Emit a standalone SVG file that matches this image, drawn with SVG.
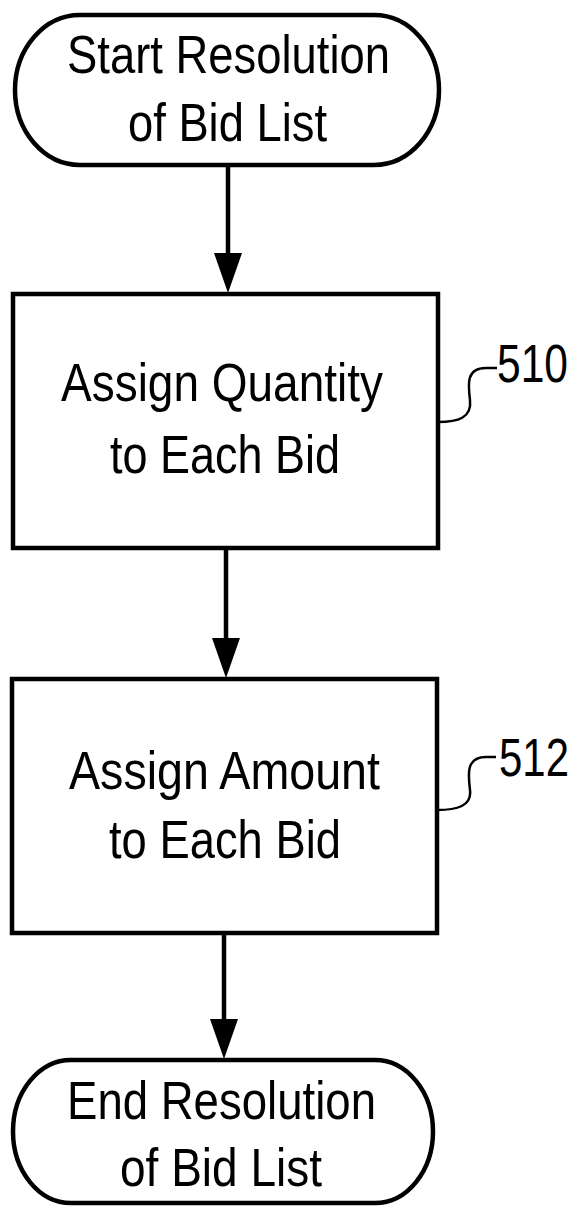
<svg xmlns="http://www.w3.org/2000/svg" width="585" height="1210" viewBox="0 0 585 1210">
<style>
.shape{fill:#fff;stroke:#000;stroke-width:4.5}
.txt{font-family:"Liberation Sans",Arial,sans-serif;font-size:53px;fill:#000}
.lbl{font-family:"Liberation Sans",Arial,sans-serif;font-size:54px;fill:#000}
.conn{stroke:#000;stroke-width:4.5;fill:none}
.lead{stroke:#000;stroke-width:2.5;fill:none}
</style>
<defs>
<marker id="ah" markerUnits="userSpaceOnUse" markerWidth="40" markerHeight="30" refX="5" refY="14" orient="auto" viewBox="0 0 40 28">
<path d="M0,0 L40,14 L0,28 z" fill="#000"/>
</marker>
</defs>
<rect width="585" height="1210" fill="#fff"/>
<g id="start">
<rect class="shape" x="15" y="15" width="424" height="150" rx="65" ry="75"/>
<text class="txt" x="67" y="73" textLength="323" lengthAdjust="spacingAndGlyphs">Start Resolution</text>
<text class="txt" x="128" y="141" textLength="199" lengthAdjust="spacingAndGlyphs">of Bid List</text>
</g>
<g id="n510">
<rect class="shape" x="13" y="294" width="425" height="254"/>
<text class="txt" x="61" y="401" textLength="322" lengthAdjust="spacingAndGlyphs">Assign Quantity</text>
<text class="txt" x="110" y="473" textLength="230" lengthAdjust="spacingAndGlyphs">to Each Bid</text>
<path class="lead" d="M438,422 C458,422 472,418 470,400 C468,384 466,368 486,368 L497,368"/>
<text class="lbl" x="497" y="382" textLength="71" lengthAdjust="spacingAndGlyphs">510</text>
</g>
<g id="n512">
<rect class="shape" x="12" y="679" width="425" height="254"/>
<text class="txt" x="69" y="789" textLength="311" lengthAdjust="spacingAndGlyphs">Assign Amount</text>
<text class="txt" x="109" y="858" textLength="232" lengthAdjust="spacingAndGlyphs">to Each Bid</text>
<path class="lead" d="M437,810 C457,810 472,806 470,790 C468,774 466,757 486,757 L496,757"/>
<text class="lbl" x="499" y="776" textLength="70" lengthAdjust="spacingAndGlyphs">512</text>
</g>
<g id="end">
<rect class="shape" x="13" y="1060" width="420" height="143" rx="58" ry="71.5"/>
<text class="txt" x="67" y="1119" textLength="309" lengthAdjust="spacingAndGlyphs">End Resolution</text>
<text class="txt" x="120" y="1186" textLength="202" lengthAdjust="spacingAndGlyphs">of Bid List</text>
</g>
<g id="connectors">
<line class="conn" x1="228" y1="165" x2="228" y2="258" marker-end="url(#ah)"/>
<line class="conn" x1="226" y1="548" x2="226" y2="643" marker-end="url(#ah)"/>
<line class="conn" x1="224" y1="933" x2="224" y2="1024" marker-end="url(#ah)"/>
</g>
</svg>
